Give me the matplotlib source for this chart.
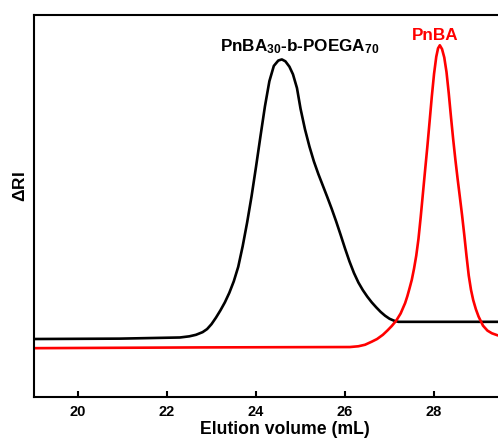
"""GPC traces: PnBA macro-initiator vs. PnBA-b-POEGA block copolymer."""

import matplotlib
matplotlib.use("Agg")
import matplotlib.pyplot as plt

plt.rcParams["font.family"] = ["Liberation Sans", "DejaVu Sans"]
plt.rcParams["font.weight"] = "bold"
plt.rcParams["mathtext.default"] = "regular"

# elution volume (mL) and RI response (a.u.)
copolymer_vol = [19.01, 20.94, 22.29, 22.50, 22.65, 22.80, 22.90, 23.00, 23.10,
                 23.20, 23.30, 23.40, 23.50, 23.60, 23.70, 23.80, 23.90, 24.00,
                 24.10, 24.20, 24.30, 24.40, 24.50, 24.58, 24.66, 24.75, 24.83,
                 24.92, 25.00, 25.10, 25.20, 25.30, 25.40, 25.50, 25.60, 25.70,
                 25.80, 25.90, 26.00, 26.10, 26.20, 26.30, 26.40, 26.50, 26.60,
                 26.70, 26.80, 26.90, 27.00, 27.10, 27.20, 27.91, 29.44, 30.30]
copolymer_ri = [15.1, 15.2, 15.5, 15.8, 16.2, 16.9, 17.7, 19.0, 20.7,
                22.6, 24.7, 27.2, 30.2, 34.0, 39.4, 45.6, 52.5, 60.2,
                68.2, 76.0, 82.6, 86.6, 88.0, 88.3, 87.8, 86.4, 84.4,
                80.8, 75.4, 70.0, 65.5, 61.6, 58.3, 55.3, 52.3, 49.2,
                45.9, 42.4, 38.8, 35.4, 32.4, 29.9, 27.9, 26.2, 24.7,
                23.4, 22.2, 21.2, 20.4, 19.9, 19.6, 19.6, 19.6, 19.6]

pnba_vol = [19.01, 22.74, 26.11, 26.30, 26.45, 26.60, 26.72, 26.85, 26.95,
            27.05, 27.15, 27.25, 27.35, 27.40, 27.45, 27.50, 27.55, 27.60,
            27.65, 27.70, 27.75, 27.80, 27.85, 27.90, 27.95, 28.00, 28.05,
            28.09, 28.13, 28.18, 28.23, 28.28, 28.33, 28.38, 28.43, 28.48,
            28.53, 28.58, 28.63, 28.68, 28.73, 28.78, 28.83, 28.88, 28.94,
            29.00, 29.10, 29.20, 29.30, 29.42, 29.60]
pnba_ri = [12.7, 12.9, 13.0, 13.2, 13.6, 14.4, 15.1, 16.2, 17.3,
           18.5, 19.9, 21.8, 24.5, 26.3, 28.4, 30.6, 33.5, 36.9,
           41.3, 47.0, 53.2, 59.4, 65.5, 72.0, 78.6, 84.5, 89.0,
           91.2, 92.0, 91.0, 88.8, 85.0, 79.5, 73.3, 67.4, 62.0,
           57.0, 52.3, 47.5, 42.3, 36.8, 31.7, 28.0, 25.3, 22.9,
           21.0, 18.6, 17.3, 16.6, 16.1, 15.5]

x_ticks = [20, 22, 24, 26, 28]

fig = plt.figure(figsize=(4.98, 4.39), dpi=100)
ax = fig.add_axes([0.0673, 0.0941, 1.0098, 0.8701])

ax.plot(copolymer_vol, copolymer_ri, color="black", linewidth=1.9,
        solid_joinstyle="round")
ax.plot(pnba_vol, pnba_ri, color="red", linewidth=1.9, solid_joinstyle="round")

ax.text(24.97, 90.8, "PnBA$_{30}$-b-POEGA$_{70}$", ha="center", va="baseline",
        fontsize=12.3, fontweight="bold", color="black")
ax.text(28.02, 93.6, "PnBA", ha="center", va="baseline",
        fontsize=12.3, fontweight="bold", color="red")

ax.set_xlim(19, 30.3)
ax.set_ylim(0, 100)
ax.set_xticks(x_ticks)
ax.set_yticks([])
ax.tick_params(axis="x", direction="in", length=4.5, width=1.5, pad=5,
               labelsize=10.5)
for lbl in ax.get_xticklabels():
    lbl.set_fontweight("bold")
for spine in ax.spines.values():
    spine.set_linewidth(1.5)

ax.set_xlabel("Elution volume (mL)", fontsize=12.7, fontweight="bold", labelpad=2)
ax.set_ylabel("$\\Delta$RI", fontsize=12.5, fontweight="bold")
ax.yaxis.set_label_coords(-0.011, 0.552)

fig.savefig("out.png", dpi=100)
